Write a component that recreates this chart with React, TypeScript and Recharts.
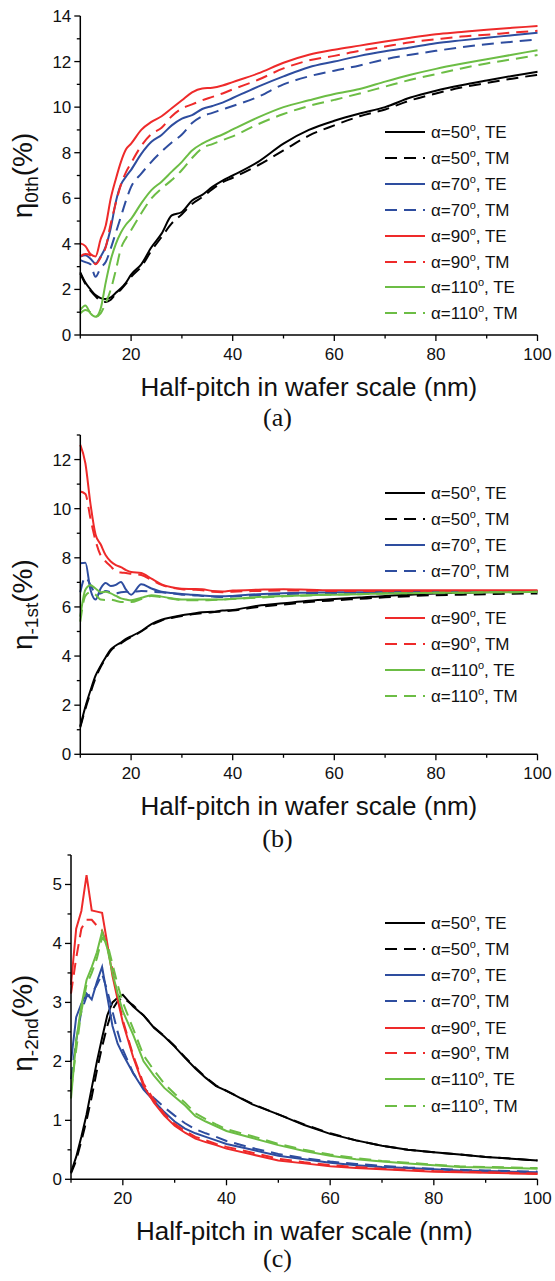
import React from 'react'
import { LineChart, Line, XAxis, YAxis, Legend } from 'recharts'

// half-pitch in wafer scale (nm)
const halfPitch = [10, 11, 12, 13, 14, 15, 16, 17, 18, 19, 20, 22, 24, 26, 28, 30, 32, 34, 36, 38, 40, 45, 50, 55, 60, 65, 70, 75, 80, 85, 90, 95, 100]

// (a) zeroth order efficiency
const a50TE = [2.75, 2.3, 2.0, 1.75, 1.62, 1.58, 1.65, 1.85, 2.05, 2.3, 2.65, 3.1, 3.85, 4.45, 5.25, 5.4, 5.9, 6.15, 6.5, 6.78, 7.0, 7.6, 8.4, 9.0, 9.4, 9.72, 10.0, 10.42, 10.72, 10.96, 11.17, 11.37, 11.55]
const a50TM = [2.7, 2.25, 1.95, 1.7, 1.5, 1.45, 1.55, 1.8, 2.0, 2.25, 2.55, 3.0, 3.7, 4.3, 4.9, 5.3, 5.75, 6.05, 6.4, 6.7, 6.9, 7.45, 8.1, 8.75, 9.2, 9.6, 9.9, 10.3, 10.6, 10.86, 11.06, 11.25, 11.42]
const a70TE = [3.44, 3.5, 3.35, 3.14, 3.44, 3.88, 4.7, 5.85, 6.6, 6.95, 7.25, 7.95, 8.48, 8.78, 9.2, 9.5, 9.65, 9.92, 10.05, 10.2, 10.4, 10.9, 11.35, 11.75, 12.0, 12.25, 12.45, 12.62, 12.8, 12.93, 13.05, 13.15, 13.26]
const a70TM = [3.29, 3.2, 3.1, 2.56, 2.95, 3.2, 3.8, 4.5, 5.2, 5.9, 6.5, 7.08, 7.6, 8.05, 8.45, 8.8, 9.3, 9.6, 9.75, 9.9, 10.05, 10.45, 11.0, 11.35, 11.6, 11.83, 12.1, 12.3, 12.47, 12.63, 12.76, 12.87, 12.97]
const a90TE = [4.02, 3.9, 3.55, 3.45, 4.2, 4.8, 6.0, 6.85, 7.6, 8.15, 8.4, 9.0, 9.35, 9.6, 9.95, 10.3, 10.65, 10.82, 10.85, 10.95, 11.1, 11.48, 11.95, 12.3, 12.52, 12.7, 12.88, 13.05, 13.2, 13.3, 13.4, 13.48, 13.56]
const a90TM = [3.45, 3.55, 3.5, 3.1, 3.4, 3.85, 4.9, 5.8, 6.6, 7.15, 7.55, 8.3, 8.82, 9.1, 9.6, 9.94, 10.12, 10.3, 10.45, 10.6, 10.78, 11.2, 11.7, 12.05, 12.25, 12.47, 12.66, 12.85, 12.98, 13.1, 13.18, 13.27, 13.35]
const a110TE = [1.1, 1.3, 0.95, 0.8, 1.15, 2.3, 3.3, 4.0, 4.5, 4.85, 5.1, 5.78, 6.36, 6.73, 7.17, 7.6, 8.1, 8.4, 8.62, 8.8, 9.02, 9.55, 10.0, 10.3, 10.58, 10.8, 11.12, 11.42, 11.68, 11.9, 12.1, 12.3, 12.5]
const a110TM = [0.95, 1.1, 1.0, 0.8, 0.95, 1.4, 2.0, 2.85, 3.8, 4.25, 4.6, 5.34, 6.0, 6.43, 6.8, 7.24, 7.77, 8.2, 8.38, 8.55, 8.72, 9.25, 9.7, 10.05, 10.32, 10.6, 10.9, 11.2, 11.45, 11.7, 11.92, 12.1, 12.29]

// (b) -1st order efficiency
const b50TE = [1.15, 1.94, 2.6, 3.2, 3.6, 3.95, 4.27, 4.43, 4.55, 4.7, 4.8, 5.02, 5.3, 5.48, 5.58, 5.66, 5.72, 5.78, 5.8, 5.85, 5.88, 6.05, 6.15, 6.25, 6.32, 6.38, 6.45, 6.5, 6.55, 6.57, 6.6, 6.62, 6.63]
const b50TM = [1.1, 1.85, 2.5, 3.1, 3.55, 3.9, 4.22, 4.4, 4.52, 4.66, 4.77, 5.0, 5.27, 5.45, 5.55, 5.63, 5.7, 5.75, 5.78, 5.82, 5.85, 6.0, 6.1, 6.2, 6.27, 6.33, 6.39, 6.44, 6.48, 6.5, 6.52, 6.54, 6.55]
const b70TE = [7.78, 7.8, 6.7, 6.3, 6.75, 6.97, 6.85, 6.9, 7.02, 6.7, 6.5, 6.92, 6.75, 6.62, 6.57, 6.53, 6.5, 6.47, 6.44, 6.43, 6.45, 6.52, 6.56, 6.58, 6.6, 6.6, 6.62, 6.62, 6.63, 6.63, 6.63, 6.64, 6.64]
const b70TM = [6.6, 7.2, 6.9, 6.55, 6.55, 6.65, 6.6, 6.55, 6.6, 6.62, 6.6, 6.65, 6.62, 6.6, 6.55, 6.5, 6.48, 6.45, 6.42, 6.4, 6.42, 6.48, 6.52, 6.55, 6.57, 6.58, 6.59, 6.6, 6.6, 6.61, 6.61, 6.62, 6.62]
const b90TE = [12.6, 11.85, 10.2, 8.95, 8.55, 8.1, 7.85, 7.7, 7.62, 7.5, 7.42, 7.38, 7.15, 6.92, 6.8, 6.74, 6.73, 6.72, 6.65, 6.63, 6.67, 6.7, 6.72, 6.7, 6.68, 6.68, 6.68, 6.68, 6.68, 6.68, 6.68, 6.68, 6.68]
const b90TM = [10.7, 10.6, 9.6, 8.7, 8.1, 7.85, 7.65, 7.45, 7.4, 7.38, 7.35, 7.3, 7.1, 6.9, 6.78, 6.72, 6.7, 6.68, 6.62, 6.6, 6.62, 6.65, 6.67, 6.66, 6.65, 6.65, 6.65, 6.65, 6.65, 6.65, 6.65, 6.65, 6.65]
const b110TE = [5.6, 6.7, 6.88, 6.75, 6.6, 6.62, 6.55, 6.45, 6.35, 6.3, 6.27, 6.37, 6.48, 6.42, 6.35, 6.3, 6.3, 6.3, 6.3, 6.3, 6.33, 6.4, 6.45, 6.48, 6.5, 6.52, 6.55, 6.56, 6.58, 6.58, 6.6, 6.6, 6.62]
const b110TM = [5.4, 6.45, 6.6, 6.5, 6.3, 6.28, 6.3, 6.25, 6.2, 6.2, 6.2, 6.32, 6.45, 6.4, 6.33, 6.28, 6.27, 6.27, 6.28, 6.3, 6.32, 6.38, 6.43, 6.47, 6.5, 6.52, 6.55, 6.56, 6.58, 6.58, 6.6, 6.6, 6.62]

// (c) -2nd order efficiency
const c50TE = [0.12, 0.38, 0.72, 1.1, 1.55, 2.0, 2.4, 2.78, 3.0, 3.08, 3.13, 2.93, 2.78, 2.57, 2.42, 2.25, 2.06, 1.88, 1.72, 1.58, 1.5, 1.27, 1.1, 0.92, 0.77, 0.66, 0.57, 0.5, 0.46, 0.42, 0.38, 0.35, 0.32]
const c50TM = [0.1, 0.32, 0.65, 1.0, 1.4, 1.85, 2.25, 2.6, 2.88, 3.02, 3.08, 2.95, 2.78, 2.58, 2.43, 2.26, 2.07, 1.89, 1.73, 1.59, 1.5, 1.28, 1.1, 0.93, 0.78, 0.66, 0.57, 0.5, 0.46, 0.42, 0.38, 0.35, 0.32]
const c70TE = [2.0, 2.75, 2.98, 3.15, 3.05, 3.35, 3.6, 3.1, 2.6, 2.3, 2.12, 1.8, 1.52, 1.33, 1.14, 0.98, 0.86, 0.78, 0.72, 0.66, 0.6, 0.5, 0.4, 0.34, 0.28, 0.24, 0.21, 0.19, 0.17, 0.15, 0.14, 0.13, 0.12]
const c70TM = [1.7, 2.35, 2.85, 3.1, 3.15, 3.3, 3.48, 3.2, 2.85, 2.5, 2.2, 1.8, 1.55, 1.38, 1.22, 1.08, 0.95, 0.85, 0.78, 0.72, 0.65, 0.53, 0.43, 0.36, 0.3, 0.26, 0.23, 0.2, 0.18, 0.16, 0.15, 0.14, 0.13]
const c90TE = [3.3, 4.25, 4.55, 5.16, 4.56, 4.54, 4.52, 4.0, 3.45, 3.05, 2.66, 2.07, 1.58, 1.3, 1.08, 0.91, 0.79, 0.69, 0.63, 0.58, 0.52, 0.42, 0.32, 0.27, 0.22, 0.19, 0.17, 0.15, 0.13, 0.12, 0.11, 0.1, 0.09]
const c90TM = [3.15, 3.75, 4.25, 4.4, 4.4, 4.3, 4.22, 3.95, 3.55, 3.1, 2.7, 2.1, 1.62, 1.35, 1.11, 0.94, 0.82, 0.72, 0.66, 0.6, 0.55, 0.45, 0.35, 0.29, 0.24, 0.21, 0.18, 0.16, 0.14, 0.13, 0.12, 0.11, 0.1]
const c110TE = [1.37, 2.35, 2.95, 3.38, 3.6, 3.85, 4.2, 3.92, 3.5, 3.15, 2.85, 2.45, 2.0, 1.76, 1.55, 1.4, 1.25, 1.07, 0.98, 0.9, 0.82, 0.7, 0.58, 0.48, 0.4, 0.34, 0.3, 0.27, 0.24, 0.21, 0.2, 0.19, 0.18]
const c110TM = [1.5, 2.2, 2.85, 3.3, 3.5, 3.75, 4.1, 4.0, 3.65, 3.3, 3.0, 2.55, 2.1, 1.85, 1.62, 1.45, 1.3, 1.12, 1.02, 0.93, 0.85, 0.73, 0.6, 0.5, 0.42, 0.36, 0.31, 0.28, 0.25, 0.22, 0.21, 0.2, 0.19]

const angles = ['50', '70', '90', '110']
const modes = ['TE', 'TM']
const xTicks = [10, 20, 30, 40, 50, 60, 70, 80, 90, 100]

const colors: Record<string, string> = { '50': '#000000', '70': '#2e4d9f', '90': '#ee2a2a', '110': '#6cbd45' }
const DASH = '12 7'
const SANS = '"Liberation Sans", Arial, sans-serif'

function table(series: number[][]) {
  return halfPitch.map((x, i) => {
    const row: Record<string, number> = { x }
    angles.forEach((a, ai) => {
      row[a + 'TE'] = series[ai * 2][i]
      row[a + 'TM'] = series[ai * 2 + 1][i]
    })
    return row
  })
}

const dataA = table([a50TE, a50TM, a70TE, a70TM, a90TE, a90TM, a110TE, a110TM])
const dataB = table([b50TE, b50TM, b70TE, b70TM, b90TE, b90TM, b110TE, b110TM])
const dataC = table([c50TE, c50TM, c70TE, c70TM, c90TE, c90TM, c110TE, c110TM])

function XTick(props: any) {
  const { x, y, payload } = props
  const v = payload.value
  const major = v % 20 === 0
  return (
    <g>
      <line x1={x} x2={x} y1={y} y2={y + (major ? 6 : 3.5)} stroke="#000" strokeWidth={1.3} />
      {major && (
        <text x={x} y={y + 19} dy="0.35em" textAnchor="middle" fontSize={17} fontFamily={SANS} fill="#111">
          {v}
        </text>
      )}
    </g>
  )
}

function makeYTick(step: number) {
  return (props: any) => {
    const { x, y, payload } = props
    const v = payload.value
    const major = Math.abs(v / step - Math.round(v / step)) < 1e-6
    return (
      <g>
        <line x1={x - (major ? 6 : 3.5)} x2={x} y1={y} y2={y} stroke="#000" strokeWidth={1.3} />
        {major && (
          <text x={x - 9} y={y} dy="0.35em" textAnchor="end" fontSize={17} fontFamily={SANS} fill="#111">
            {v}
          </text>
        )}
      </g>
    )
  }
}

function LegendBox({ rows }: { rows: number[] }) {
  const top = rows[0] - 14
  return (
    <svg width={175} height={rows[rows.length - 1] - top + 14} style={{ display: 'block' }}>
      {angles.flatMap((a) => modes.map((m) => ({ a, m }))).map(({ a, m }, i) => {
        const y = rows[i] - top
        return (
          <g key={a + m}>
            <line x1={0} x2={40} y1={y} y2={y} stroke={colors[a]} strokeWidth={2} strokeDasharray={m === 'TM' ? DASH : undefined} />
            <text x={46} y={y} dy="0.35em" fontSize={17} fontFamily={SANS} fill="#111">
              <tspan>α={a}</tspan>
              <tspan dy={-7} fontSize={11}>o</tspan>
              <tspan dy={7}>, {m}</tspan>
            </text>
          </g>
        )
      })}
    </svg>
  )
}

type PanelProps = {
  data: Record<string, number>[]
  top: number
  height: number
  plotTop: number
  yWidth: number
  xAxisH: number
  yMax: number
  yStep: number
  majorStep: number
  sub: string
  titleShift: number
  rows: number[]
  caption: string
  captionY: number
  curve: 'monotone' | 'linear'
}

function Panel(p: PanelProps) {
  const yTicks: number[] = []
  for (let v = 0; v <= p.yMax + 1e-9; v += p.yStep) yTicks.push(Math.round(v * 10) / 10)
  return (
    <div style={{ position: 'absolute', left: 0, top: p.top, width: 555, height: p.height }}>
      <LineChart
        width={555}
        height={p.height}
        data={p.data}
        margin={{ top: p.plotTop, right: 17.5, bottom: 0, left: 0 }}
      >
        <XAxis
          dataKey="x"
          type="number"
          domain={[10, 100]}
          ticks={xTicks}
          interval={0}
          height={p.xAxisH}
          tickSize={0}
          tickMargin={0}
          tickLine={false}
          axisLine={{ stroke: '#000', strokeWidth: 1.5 }}
          tick={XTick}
          label={(lp: any) => {
            const vb = lp.viewBox
            return (
              <text x={vb.x + vb.width / 2} y={vb.y + 52} dy="0.35em" textAnchor="middle" fontSize={26} fontFamily={SANS} fill="#111">
                Half-pitch in wafer scale (nm)
              </text>
            )
          }}
        />
        <YAxis
          type="number"
          domain={[0, p.yMax]}
          ticks={yTicks}
          interval={0}
          width={p.yWidth}
          tickSize={0}
          tickMargin={0}
          tickLine={false}
          allowDataOverflow
          axisLine={{ stroke: '#000', strokeWidth: 1.5 }}
          tick={makeYTick(p.majorStep)}
          label={(lp: any) => {
            const vb = lp.viewBox
            const cx = 22
            const cy = vb.y + vb.height / 2 + p.titleShift
            return (
              <text x={cx} y={cy} dy="0.35em" textAnchor="middle" transform={`rotate(-90 ${cx} ${cy})`} fontFamily={SANS} fill="#111" fontSize={28}>
                <tspan>η</tspan>
                <tspan fontSize={19} dy={6}>{p.sub}</tspan>
                <tspan dy={-6}>(%)</tspan>
              </text>
            )
          }}
        />
        <Legend
          layout="horizontal"
          align="center"
          verticalAlign="middle"
          wrapperStyle={{ left: 385, top: p.rows[0] - 14 - p.top, width: 175 }}
          content={() => <LegendBox rows={p.rows} />}
        />
        {angles.flatMap((a) =>
          modes.map((m) => (
            <Line
              key={a + m}
              dataKey={a + m}
              type={p.curve}
              stroke={colors[a]}
              strokeWidth={2}
              strokeDasharray={m === 'TM' ? DASH : undefined}
              dot={false}
              isAnimationActive={false}
            />
          ))
        )}
      </LineChart>
      <div
        style={{
          position: 'absolute',
          left: 0,
          width: 555,
          textAlign: 'center',
          top: p.captionY - p.top - 14,
          fontFamily: '"Liberation Serif", "Times New Roman", serif',
          fontSize: 26,
          lineHeight: '28px',
          color: '#111',
        }}
      >
        {p.caption}
      </div>
    </div>
  )
}

export default function App() {
  return (
    <div style={{ position: 'absolute', left: 0, top: 0, width: 555, height: 1281, background: '#fff' }}>
      <Panel data={dataA} top={0} height={412} plotTop={16} yWidth={80.3} xAxisH={77} yMax={14} yStep={1} majorStep={2} sub="0th" titleShift={0} rows={[132, 158, 184, 210, 236, 262, 287, 313]} caption="(a)" captionY={418} curve="monotone" />
      <Panel data={dataB} top={420} height={412} plotTop={15} yWidth={80.3} xAxisH={77.7} yMax={13} yStep={1} majorStep={2} sub="-1st" titleShift={10} rows={[493, 519, 545, 571, 618, 644, 670, 696]} caption="(b)" captionY={839} curve="monotone" />
      <Panel data={dataC} top={840} height={420} plotTop={15} yWidth={71} xAxisH={80.7} yMax={5.5} yStep={0.5} majorStep={1} sub="-2nd" titleShift={6} rows={[923, 949, 975, 1001, 1028, 1053, 1079, 1106]} caption="(c)" captionY={1259} curve="linear" />
    </div>
  )
}
